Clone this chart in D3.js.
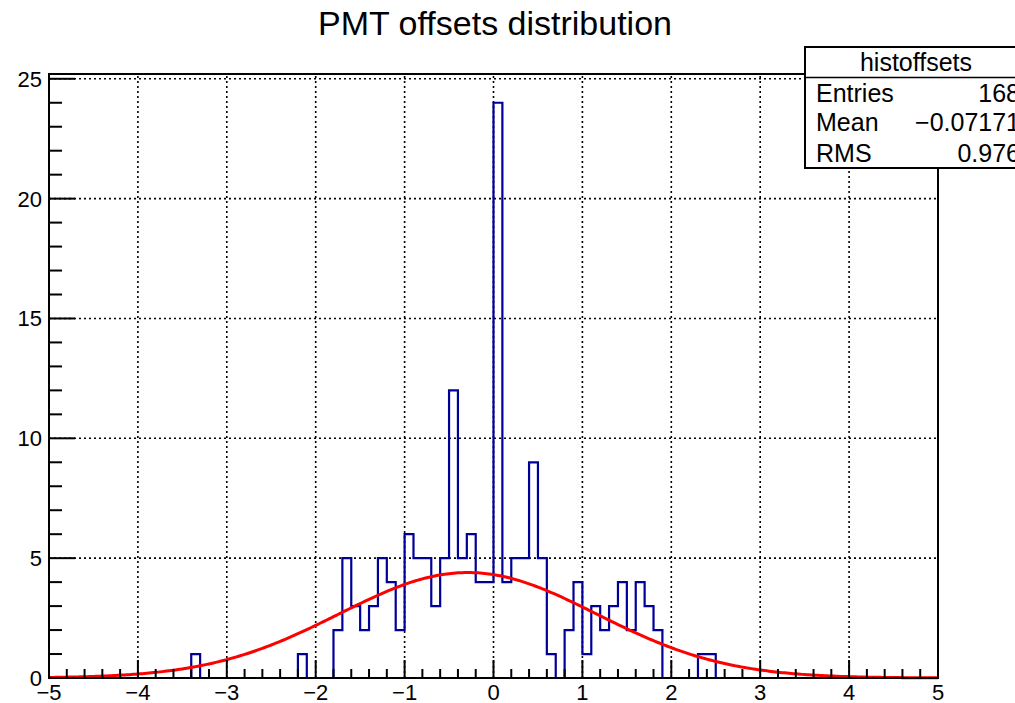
<!DOCTYPE html>
<html>
<head>
<meta charset="utf-8">
<script src="https://cdn.jsdelivr.net/npm/d3@7"></script>
<style>
  html, body { margin: 0; padding: 0; background: #fff; }
  svg { display: block; font-family: "Liberation Sans", Arial, Helvetica, sans-serif; }
</style>
</head>
<body>
<svg id="chart" width="1015" height="703"></svg>
<script>
// Histogram "histoffsets": 0.1-wide bins; counts listed from the first filled bin
const binWidth = 0.1;
const firstBinLow = -3.4;
const counts = [
  1, 0, 0, 0, 0, 0, 0, 0, 0, 0, 0, 0,   // -3.4 .. -2.3
  1, 0, 0, 0,                           // -2.2 .. -1.9
  2, 5, 3, 2, 3, 5, 4, 2,               // -1.8 .. -1.1
  6, 5, 5, 3, 5, 12, 5, 6, 4, 4,        // -1.0 .. -0.1
  24, 4, 5, 5, 9, 5, 1, 0, 2, 4,        //  0.0 ..  0.9
  1, 3, 2, 3, 4, 2, 4, 3, 2, 0,         //  1.0 ..  1.9
  0, 0, 0, 1, 1                         //  2.0 ..  2.4
];

// Gaussian fit parameters (constant, mean, sigma)
const fitConstant = 4.40;
const fitMean = -0.29;
const fitSigma = 1.45;

// Stats box
const statsTitle = "histoffsets";
const statsLabels = ["Entries", "Mean", "RMS"];
const statsValues = ["168", "\u22120.07171", "0.976"];

// Axis ticks
const xTicks = [-5, -4, -3, -2, -1, 0, 1, 2, 3, 4, 5];
const yTicks = [0, 5, 10, 15, 20, 25];
const xDomain = [-5, 5];
const yDomain = [0, 25.2];

const svg = d3.select("#chart");
const frame = { left: 49, right: 938, top: 74, bottom: 678 };

const x = d3.scaleLinear().domain(xDomain).range([frame.left, frame.right]);
const y = d3.scaleLinear().domain(yDomain).range([frame.bottom, frame.top]);

const fmt = v => (v < 0 ? "\u2212" + Math.abs(v) : String(v));

// Title
svg.append("text")
  .attr("x", 495).attr("y", 35)
  .attr("text-anchor", "middle")
  .attr("font-size", 34)
  .attr("fill", "#000")
  .text("PMT offsets distribution");

// Grid (dotted)
const grid = svg.append("g").attr("stroke", "#000").attr("stroke-width", 1.6)
  .attr("stroke-dasharray", "2,3");
grid.selectAll("line.gx").data(xTicks.slice(1, -1)).join("line")
  .attr("x1", d => x(d)).attr("x2", d => x(d))
  .attr("y1", frame.bottom).attr("y2", frame.top);
grid.selectAll("line.gy").data(yTicks.slice(1)).join("line")
  .attr("x1", frame.left).attr("x2", frame.right)
  .attr("y1", d => y(d)).attr("y2", d => y(d));

// Histogram outline (steps)
const bins = counts.map((c, i) => ({ x0: firstBinLow + i * binWidth, x1: firstBinLow + (i + 1) * binWidth, c }));
const pts = [[x(bins[0].x0), y(0)]];
bins.forEach(b => {
  pts.push([x(b.x0), y(b.c)]);
  pts.push([x(b.x1), y(b.c)]);
});
pts.push([x(bins[bins.length - 1].x1), y(0)]);
svg.append("path")
  .attr("d", d3.line()(pts))
  .attr("fill", "none")
  .attr("stroke", "#000099")
  .attr("stroke-width", 2.2)
  .attr("stroke-linejoin", "miter");

// Gaussian fit curve
const gauss = v => fitConstant * Math.exp(-0.5 * Math.pow((v - fitMean) / fitSigma, 2));
const fitX = d3.range(0, 401).map(i => xDomain[0] + i * (xDomain[1] - xDomain[0]) / 400);
svg.append("path")
  .attr("d", d3.line().x(d => x(d)).y(d => y(gauss(d)))(fitX))
  .attr("fill", "none")
  .attr("stroke", "#ff0000")
  .attr("stroke-width", 3);

// Ticks drawn inward
const axes = svg.append("g").attr("stroke", "#000");
const xMinor = d3.range(0, 51).map(i => -5 + i * 0.2);
axes.selectAll("line.xt").data(xMinor).join("line")
  .attr("x1", d => x(d)).attr("x2", d => x(d))
  .attr("y1", frame.bottom)
  .attr("y2", d => Math.abs(d - Math.round(d)) < 1e-6 ? frame.bottom - 18 : frame.bottom - 9)
  .attr("stroke-width", 2);
const yMinor = d3.range(0, 26);
axes.selectAll("line.yt").data(yMinor).join("line")
  .attr("y1", d => y(d)).attr("y2", d => y(d))
  .attr("x1", frame.left)
  .attr("x2", d => d % 5 === 0 ? frame.left + 26 : frame.left + 13)
  .attr("stroke-width", 2);

// Frame
svg.append("rect")
  .attr("x", frame.left).attr("y", frame.top)
  .attr("width", frame.right - frame.left).attr("height", frame.bottom - frame.top)
  .attr("fill", "none").attr("stroke", "#000").attr("stroke-width", 2);

// Tick labels
svg.append("g").selectAll("text").data(xTicks).join("text")
  .attr("x", d => x(d)).attr("y", 700)
  .attr("text-anchor", "middle")
  .attr("font-size", 22)
  .text(fmt);
svg.append("g").selectAll("text").data(yTicks).join("text")
  .attr("x", 42).attr("y", d => y(d) + 8)
  .attr("text-anchor", "end")
  .attr("font-size", 22)
  .text(fmt);

// Stats box
const sb = { x: 805, y: 47, w: 222, h: 121, head: 30.5 };
const stats = svg.append("g");
stats.append("rect")
  .attr("x", sb.x).attr("y", sb.y).attr("width", sb.w).attr("height", sb.h)
  .attr("fill", "#fff").attr("stroke", "#000").attr("stroke-width", 2);
stats.append("line")
  .attr("x1", sb.x).attr("x2", sb.x + sb.w)
  .attr("y1", sb.y + sb.head).attr("y2", sb.y + sb.head)
  .attr("stroke", "#000").attr("stroke-width", 1.5);
stats.append("text")
  .attr("x", 916).attr("y", 71)
  .attr("text-anchor", "middle").attr("font-size", 25)
  .text(statsTitle);
const rowBase = [102, 131, 162];
stats.selectAll("text.lab").data(statsLabels).join("text")
  .attr("x", sb.x + 11).attr("y", (d, i) => rowBase[i])
  .attr("font-size", 25)
  .text(d => d);
stats.selectAll("text.val").data(statsValues).join("text")
  .attr("x", 1020).attr("y", (d, i) => rowBase[i])
  .attr("text-anchor", "end")
  .attr("font-size", 25)
  .text(d => d);
</script>
</body>
</html>
